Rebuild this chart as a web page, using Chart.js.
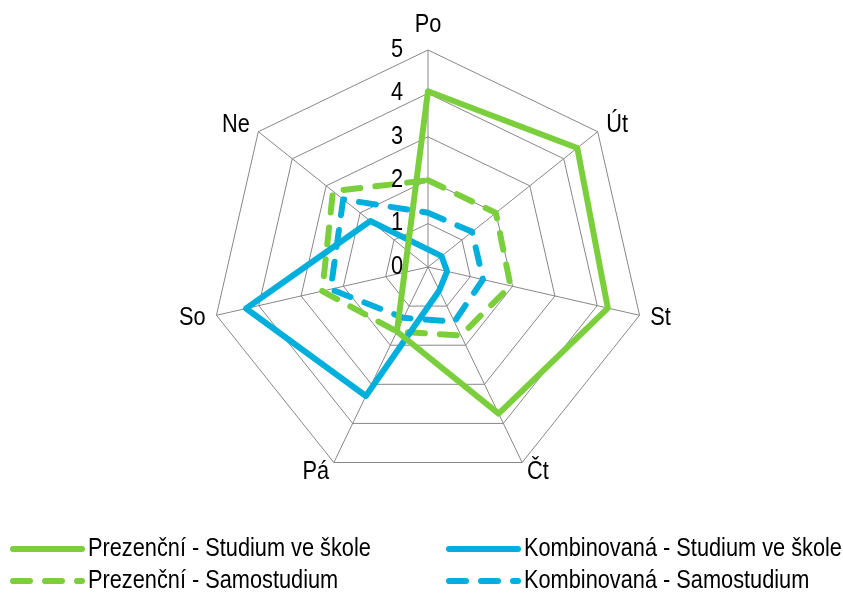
<!DOCTYPE html>
<html>
<head>
<meta charset="utf-8">
<script src="https://cdn.jsdelivr.net/npm/chart.js@4"></script>
<style>
  body { margin: 0; background: #fff; }
  #wrap { position: relative; width: 843px; height: 593px; }
</style>
</head>
<body>
<div id="wrap"><canvas id="chart" width="843" height="593"></canvas></div>
<script>
const days = ['Po', 'Út', 'St', 'Čt', 'Pá', 'So', 'Ne'];
const tickValues = [0, 1, 2, 3, 4, 5];

// null = no value for that day (line skips it)
const prezStudium = [4.05, 4.4, 4.25, 3.75, 1.65, null, null];
const kombStudium = [null, 0.4, 0.45, 0.6, 3.3, 4.3, 1.7];
const prezSamo = [2.0, 2.0, 1.95, 1.75, 1.65, 2.5, 2.8];
const kombSamo = [1.25, 1.3, 1.3, 1.4, 1.3, 2.3, 2.5];

const GREEN = '#7ccf3c';
const BLUE = '#00afdc';
const GRID = '#878787';
const FONT = '25px "Liberation Sans", Arial, sans-serif';
const TEXT_SX = 0.87; // the original uses a narrow face
const DASH = [17, 15];

function series(label, data, color, dash) {
  return {
    label, data,
    borderColor: color,
    backgroundColor: color,
    borderWidth: 6,
    borderDash: dash,
    borderCapStyle: 'round',
    borderJoinStyle: 'round',
    pointRadius: 0,
    pointHoverRadius: 0,
    fill: false,
    tension: 0,
    spanGaps: true
  };
}

function text(ctx, str, x, y, align) {
  ctx.save();
  ctx.translate(x, y);
  ctx.scale(TEXT_SX, 1);
  ctx.textAlign = align;
  ctx.fillText(str, 0, 0);
  ctx.restore();
}

// axis labels, tick numbers and the legend, placed with the radial scale
const labelsPlugin = {
  id: 'excelLabels',
  afterDraw(chart) {
    const r = chart.scales.r;
    const ctx = chart.ctx;
    ctx.save();
    ctx.font = FONT;
    ctx.fillStyle = '#000';
    ctx.textBaseline = 'middle';

    tickValues.forEach(v => {
      text(ctx, String(v), r.xCenter - 25, r.yCenter - r.getDistanceFromCenterForValue(v), 'right');
    });

    days.forEach((d, i) => {
      const p = r.getPointPosition(i, r.drawingArea + 11);
      let y = p.y, align = 'center';
      if (p.x > r.xCenter + 1) align = 'left';
      else if (p.x < r.xCenter - 1) align = 'right';
      else y -= 14;
      text(ctx, d, p.x, y, align);
    });

    // legend: two columns, two rows
    const colX = [10, 446];
    const rowY = [549, 581];
    chart.data.datasets.forEach((ds, i) => {
      const x = colX[i % 2];
      const y = rowY[Math.floor(i / 2)];
      ctx.beginPath();
      ctx.strokeStyle = ds.borderColor;
      ctx.lineWidth = 6;
      ctx.lineCap = 'round';
      ctx.setLineDash(ds.borderDash || []);
      ctx.moveTo(x + 3, y);
      ctx.lineTo(x + 72, y);
      ctx.stroke();
      ctx.setLineDash([]);
      text(ctx, ds.label, x + 78, y, 'left');
    });
    ctx.restore();
  }
};

new Chart(document.getElementById('chart'), {
  type: 'radar',
  data: {
    labels: days,
    datasets: [
      series('Prezenční - Studium ve škole', prezStudium, GREEN, []),
      series('Kombinovaná - Studium ve škole', kombStudium, BLUE, []),
      series('Prezenční - Samostudium', prezSamo, GREEN, DASH),
      series('Kombinovaná - Samostudium', kombSamo, BLUE, DASH)
    ]
  },
  options: {
    responsive: false,
    animation: false,
    layout: { padding: { left: 211, right: 198, top: 50, bottom: 109 } },
    plugins: { legend: { display: false }, tooltip: { enabled: false } },
    scales: {
      r: {
        min: 0,
        max: 5,
        ticks: { stepSize: 1, display: false },
        pointLabels: { display: false },
        grid: { color: GRID, lineWidth: 1 },
        angleLines: { color: GRID, lineWidth: 1 }
      }
    }
  },
  plugins: [labelsPlugin]
});
</script>
</body>
</html>
